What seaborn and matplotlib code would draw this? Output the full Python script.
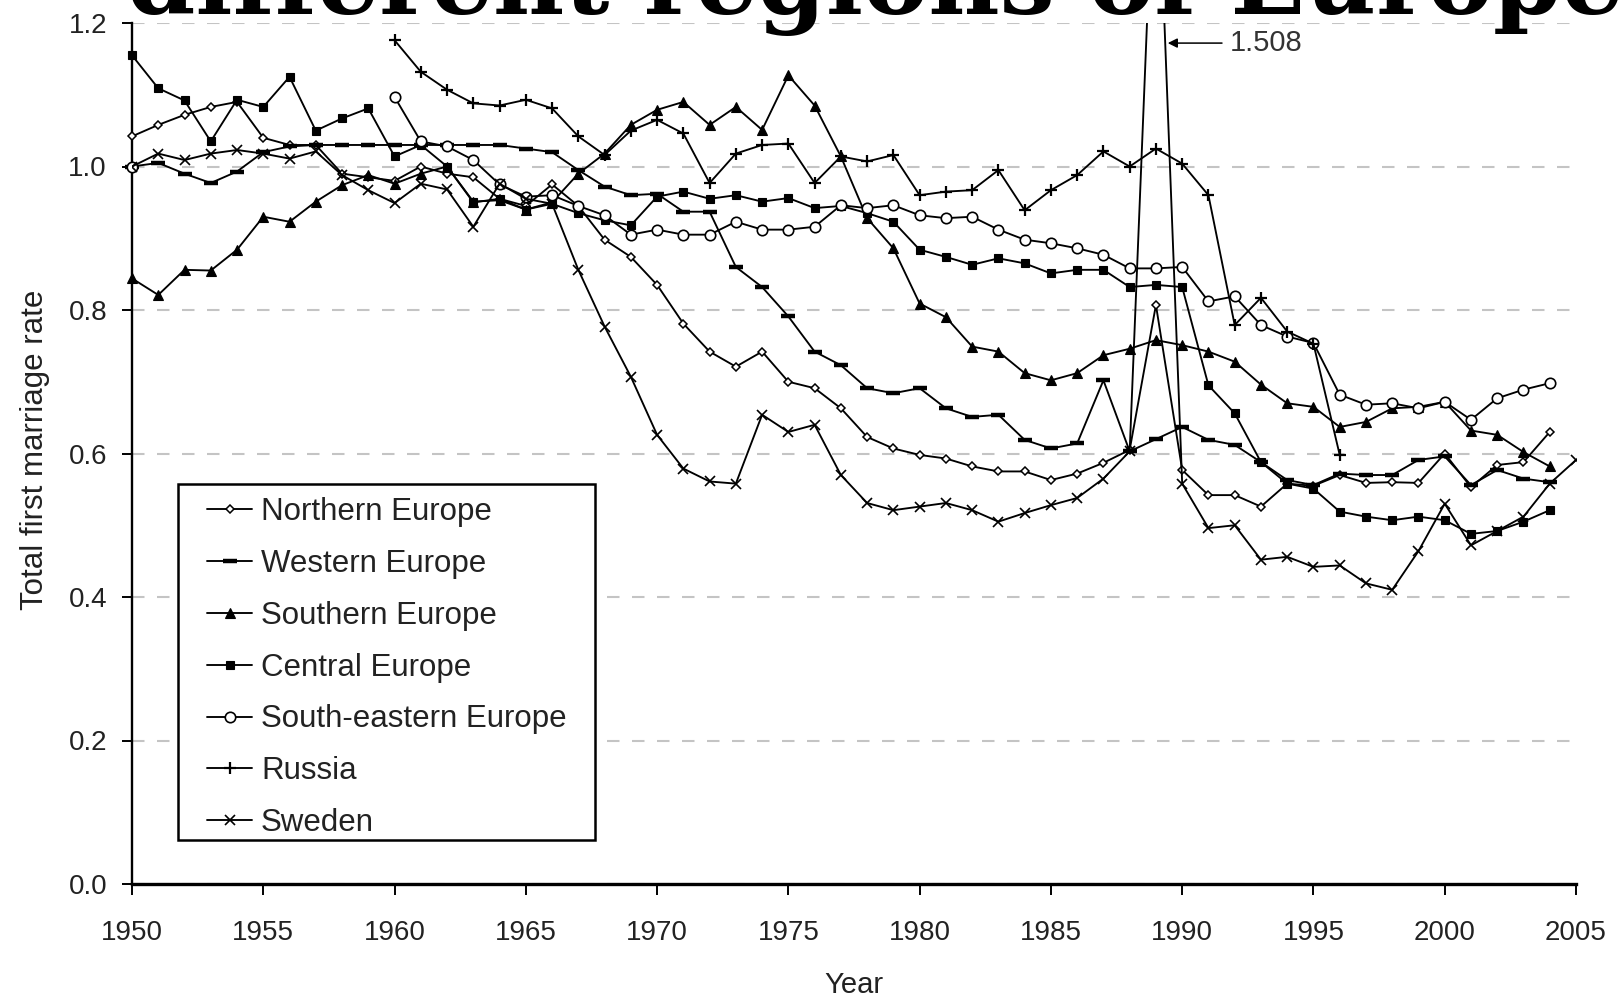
import numpy as np
import pandas as pd
import matplotlib
matplotlib.use("Agg")
import matplotlib.pyplot as plt
from matplotlib.lines import Line2D
from matplotlib.patches import Rectangle
import seaborn as sns

# ---- data: total first marriage rate, 1950-2005 ----
years = list(range(1950, 2006))

northern = [1.042, 1.058, 1.072, 1.083, 1.090, 1.040, 1.030, 1.030, 0.990, 0.985,
            0.980, 1.000, 0.990, 0.985, 0.955, 0.945, 0.975, 0.945, 0.898, 0.874,
            0.835, 0.781, 0.742, 0.721, 0.742, 0.700, 0.691, 0.663, 0.623, 0.607,
            0.598, 0.593, 0.582, 0.575, 0.575, 0.563, 0.572, 0.587, 0.605, 0.807,
            0.577, 0.542, 0.542, 0.526, 0.558, 0.555, 0.570, 0.559, 0.560, 0.559,
            0.600, 0.553, 0.584, 0.588, 0.630, None]

western = [1.000, 1.005, 0.990, 0.977, 0.993, 1.020, 1.028, 1.030, 1.030, 1.030,
           1.030, 1.030, 1.030, 1.030, 1.030, 1.025, 1.020, 0.995, 0.972, 0.960,
           0.962, 0.937, 0.937, 0.860, 0.832, 0.791, 0.742, 0.723, 0.691, 0.684,
           0.691, 0.663, 0.651, 0.654, 0.619, 0.607, 0.614, 0.702, 0.603, 0.620,
           0.637, 0.619, 0.612, 0.588, 0.563, 0.556, 0.572, 0.570, 0.570, 0.591,
           0.596, 0.556, 0.577, 0.565, 0.560, None]

southern = [0.844, 0.821, 0.856, 0.855, 0.884, 0.930, 0.923, 0.951, 0.974, 0.988,
            0.976, 0.990, 1.000, 0.951, 0.953, 0.940, 0.950, 0.990, 1.018, 1.058,
            1.079, 1.090, 1.058, 1.083, 1.051, 1.127, 1.085, 1.014, 0.928, 0.886,
            0.809, 0.790, 0.749, 0.742, 0.712, 0.702, 0.712, 0.737, 0.746, 0.758,
            0.751, 0.742, 0.728, 0.696, 0.670, 0.665, 0.637, 0.644, 0.663, 0.665,
            0.672, 0.632, 0.626, 0.602, 0.582, None]

central = [1.155, 1.109, 1.092, 1.035, 1.093, 1.083, 1.125, 1.050, 1.067, 1.081,
           1.014, 1.030, 1.000, 0.950, 0.955, 0.940, 0.948, 0.935, 0.925, 0.918,
           0.958, 0.965, 0.955, 0.960, 0.951, 0.956, 0.942, 0.945, 0.935, 0.923,
           0.884, 0.874, 0.863, 0.872, 0.865, 0.851, 0.856, 0.856, 0.832, 0.835,
           0.832, 0.695, 0.656, 0.588, 0.558, 0.551, 0.519, 0.512, 0.507, 0.512,
           0.507, 0.488, 0.492, 0.505, 0.521, None]

south_eastern = [1.000, None, None, None, None, None, None, None, None, None,
                 1.097, 1.035, 1.028, 1.009, 0.975, 0.958, 0.960, 0.945, 0.932, 0.905,
                 0.912, 0.905, 0.905, 0.923, 0.912, 0.912, 0.916, 0.946, 0.942, 0.946,
                 0.932, 0.928, 0.930, 0.912, 0.898, 0.893, 0.886, 0.877, 0.858, 0.858,
                 0.860, 0.812, 0.819, 0.779, 0.763, 0.754, 0.682, 0.668, 0.670, 0.663,
                 0.672, 0.647, 0.677, 0.689, 0.698, None]

russia = [None] * 10 + [
          1.176, 1.132, 1.107, 1.088, 1.085, 1.093, 1.081, 1.042, 1.016, 1.050,
          1.065, 1.046, 0.977, 1.018, 1.030, 1.032, 0.977, 1.014, 1.007, 1.016,
          0.960, 0.965, 0.967, 0.995, 0.939, 0.967, 0.988, 1.021, 1.000, 1.025,
          1.004, 0.960, 0.779, 0.817, 0.770, 0.753, 0.598] + [None] * 9

sweden = [1.000, 1.018, 1.009, 1.018, 1.023, 1.018, 1.011, 1.021, 0.988, 0.967,
          0.949, 0.976, 0.968, 0.916, 0.976, 0.955, 0.948, 0.856, 0.777, 0.707,
          0.626, 0.579, 0.561, 0.558, 0.654, 0.630, 0.640, 0.570, 0.531, 0.521,
          0.526, 0.531, 0.521, 0.505, 0.517, 0.528, 0.538, 0.565, 0.603, 1.508,
          0.558, 0.496, 0.500, 0.452, 0.456, 0.442, 0.444, 0.419, 0.410, 0.464,
          0.530, 0.472, 0.492, 0.512, 0.558, 0.591]

series_names = ["Northern Europe", "Western Europe", "Southern Europe", "Central Europe",
                "South-eastern Europe", "Russia", "Sweden"]
series_values = [northern, western, southern, central, south_eastern, russia, sweden]

x_ticks = list(range(1950, 2006, 5))
y_ticks = [0.0, 0.2, 0.4, 0.6, 0.8, 1.0, 1.2]
peak_label = "1.508"

# ---- marker styles per series ----
styles = {
    "Northern Europe":      dict(marker="D", markersize=4.5, markerfacecolor="white", markeredgewidth=1.1),
    "Western Europe":       dict(marker="_", markersize=10, markeredgewidth=3.2),
    "Southern Europe":      dict(marker="^", markersize=7.5, markerfacecolor="black", markeredgewidth=0.8),
    "Central Europe":       dict(marker="s", markersize=5.5, markerfacecolor="black", markeredgewidth=0.8),
    "South-eastern Europe": dict(marker="o", markersize=7.5, markerfacecolor="white", markeredgewidth=1.2),
    "Russia":               dict(marker="+", markersize=8, markeredgewidth=1.6),
    "Sweden":               dict(marker="x", markersize=7.5, markeredgewidth=1.2),
}

sns.set_style("white")
plt.rcParams["font.family"] = ["Liberation Sans", "DejaVu Sans"]

fig = plt.figure(figsize=(16.2, 9.99), dpi=100)
ax = fig.add_axes([132 / 1620, 1 - 884 / 999, 1444 / 1620, 861 / 999])

for name, vals in zip(series_names, series_values):
    df = pd.DataFrame({"year": years, "rate": pd.array(vals, dtype="Float64")}).astype(float)
    df["seg"] = df["rate"].isna().cumsum()
    df = df.dropna()
    clip = name == "Sweden"
    for _, part in df.groupby("seg"):
        sns.lineplot(data=part, x="year", y="rate", ax=ax, color="black",
                     linewidth=1.35, markeredgecolor="black", clip_on=clip,
                     estimator=None, sort=False, legend=False, zorder=3,
                     **styles[name])

# label for the off-scale Swedish peak
peak_year = years[int(np.nanargmax(np.array(sweden, dtype=float)))]
ax.annotate(peak_label, xy=(peak_year + 0.45, 1.172), xytext=(peak_year + 2.8, 1.172),
            textcoords="data", ha="left", va="center", fontsize=21, color="#333333",
            arrowprops=dict(arrowstyle="-|>", color="black", lw=1.1,
                            mutation_scale=14, shrinkA=3, shrinkB=0))

ax.set_xlim(1950, 2005)
ax.set_ylim(0, 1.2)
ax.set_xticks(x_ticks)
ax.set_xticklabels([str(t) for t in x_ticks])
ax.set_yticks(y_ticks)
ax.set_yticklabels([f"{t:.1f}" for t in y_ticks])

ax.yaxis.grid(True, color="#c4c4c4", linestyle=(0, (6, 6)), linewidth=1.5)
ax.xaxis.grid(False)
ax.set_axisbelow(True)

for side in ("top", "right"):
    ax.spines[side].set_visible(False)
ax.spines["left"].set_linewidth(1.7)
ax.spines["bottom"].set_linewidth(2.4)
ax.spines["left"].set_color("black")
ax.spines["bottom"].set_color("black")

ax.tick_params(axis="x", direction="out", length=8, width=1.4, pad=18,
               labelsize=20, labelcolor="#222222", color="black", bottom=True)
ax.tick_params(axis="y", direction="out", length=7, width=1.4, pad=11,
               labelsize=20, labelcolor="#222222", color="black", left=True)

ax.set_xlabel("Year", fontsize=21, color="#222222", va="center")
ax.xaxis.set_label_coords(0.5, -0.117)
ax.set_ylabel("Total first marriage rate", fontsize=22.5, color="#222222", va="center")
ax.yaxis.set_label_coords(-0.0675, 0.504)

# legend
handles = [Line2D([0], [0], color="black", linewidth=1.35, markeredgecolor="black",
                  **styles[n]) for n in series_names]
leg = ax.legend(handles, series_names, loc="upper left",
                bbox_to_anchor=((207 - 132) / 1444, (884 - 497) / 861),
                frameon=False, borderpad=0, borderaxespad=0,
                handlelength=1.45, handletextpad=0.28, labelspacing=0.70,
                fontsize=22.5)
for t in leg.get_texts():
    t.set_color("#222222")
ax.add_patch(Rectangle(((178 - 132) / 1444, (884 - 840) / 861),
                       (595 - 178) / 1444, (840 - 484) / 861,
                       transform=ax.transAxes, fill=True, facecolor="white",
                       edgecolor="black", linewidth=1.8, zorder=4))
leg.set_zorder(5)

# heading, running off the top edge
fig.text(127 / 1620, 1 - 14 / 999, "different regions of Europe",
         fontsize=70.5, fontweight="bold", family="DejaVu Serif",
         ha="left", va="baseline", color="black")

fig.savefig("out.png", dpi=100)
